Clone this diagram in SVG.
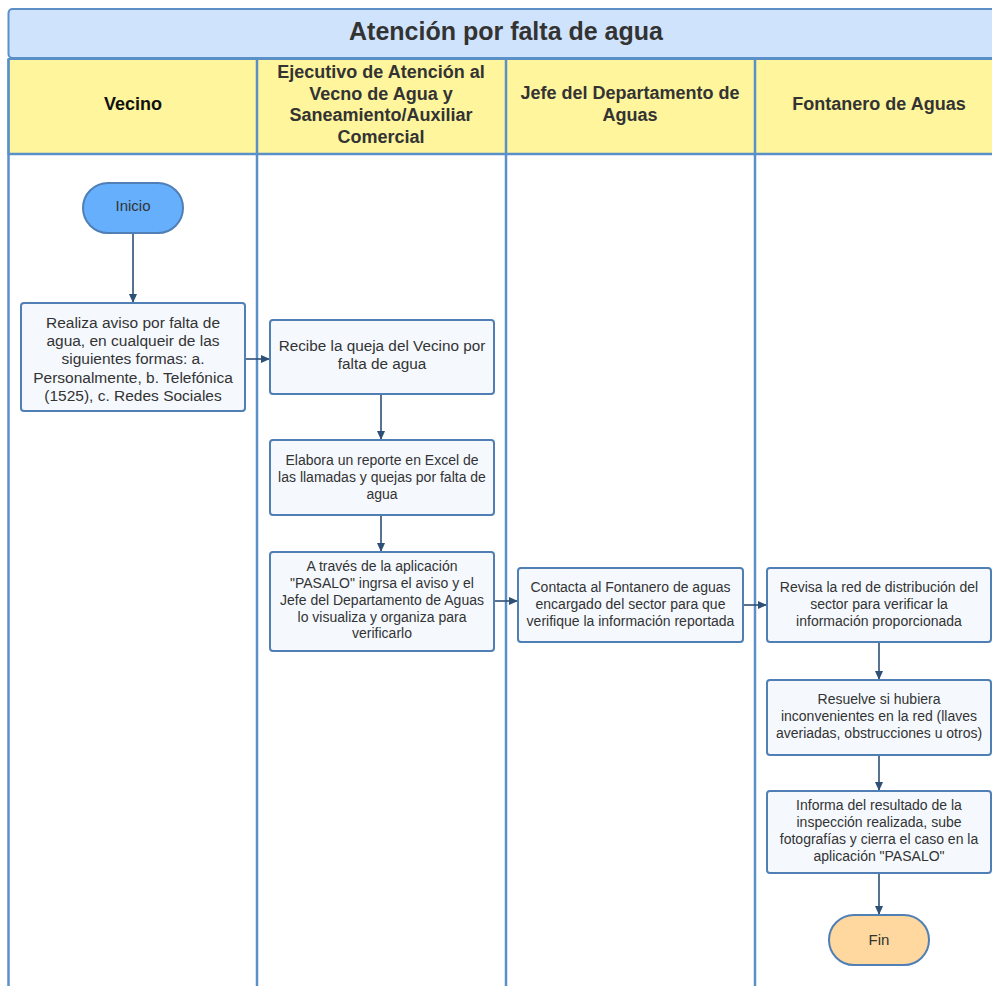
<svg xmlns="http://www.w3.org/2000/svg" width="992" height="986" viewBox="0 0 992 986">
<style>
text{font-family:"Liberation Sans",Arial,sans-serif;fill:#333333;text-anchor:middle;dominant-baseline:central}
.hd{font-weight:bold;font-size:18px}
.box{fill:#f5f9fe;stroke:#4f7fb5;stroke-width:2}
.t{font-size:15px}
.s{font-size:14px}
.ln{stroke:#5b8fc7;stroke-width:2.5;fill:none}
.cn{stroke:#2e5077;stroke-width:1.6;fill:none;marker-end:url(#ah)}
</style>
<defs>
<marker id="ah" markerWidth="10" markerHeight="10" refX="8" refY="5" orient="auto" markerUnits="userSpaceOnUse">
<path d="M0,1 L9,5 L0,9 Z" fill="#2e5077"/>
</marker>
</defs>
<rect width="992" height="986" fill="#ffffff"/>
<g id="title">
<rect x="8.5" y="9" width="1000" height="49" rx="4" fill="#cfe3fc" stroke="#5b8fc7" stroke-width="2"/>
<text x="506" y="31" style="font-size:25px;font-weight:bold">Atención por falta de agua</text>
</g>
<g id="lanes">
<rect x="8.5" y="59" width="1000" height="95" fill="#fef59c" stroke="#5b8fc7" stroke-width="2"/>
<line class="ln" x1="8.5" y1="59" x2="8.5" y2="990"/>
<line class="ln" x1="257" y1="59" x2="257" y2="990"/>
<line class="ln" x1="506" y1="59" x2="506" y2="990"/>
<line class="ln" x1="755" y1="59" x2="755" y2="990"/>
<line class="ln" x1="8.5" y1="154" x2="1000" y2="154"/>
<text class="hd" x="133" y="104" style="fill:#111">Vecino</text>
<text class="hd" x="381" y="72">Ejecutivo de Atención al</text>
<text class="hd" x="381" y="93.5">Vecno de Agua y</text>
<text class="hd" x="381" y="115">Saneamiento/Auxiliar</text>
<text class="hd" x="381" y="136.5">Comercial</text>
<text class="hd" x="630" y="93">Jefe del Departamento de</text>
<text class="hd" x="630" y="114.5">Aguas</text>
<text class="hd" x="879" y="104">Fontanero de Aguas</text>
</g>
<g id="connectors">
<path class="cn" d="M133,233 V302"/>
<path class="cn" d="M245,359 H269"/>
<path class="cn" d="M381,394 V439"/>
<path class="cn" d="M381,515 V551"/>
<path class="cn" d="M494,601 H517"/>
<path class="cn" d="M743,605 H766"/>
<path class="cn" d="M879,642 V679"/>
<path class="cn" d="M879,755 V790"/>
<path class="cn" d="M879,873 V914"/>
</g>
<g id="inicio">
<rect x="83" y="183" width="100" height="50" rx="25" fill="#66affc" stroke="#4f7fb5" stroke-width="2"/>
<text class="t" x="133" y="205">Inicio</text>
</g>
<g id="n1">
<rect class="box" x="21" y="303" width="224" height="108" rx="3"/>
<text x="133" y="322" style="font-size:15.5px">Realiza aviso por falta de</text>
<text x="133" y="340" style="font-size:15.5px">agua, en cualqueir de las</text>
<text x="133" y="358.5" style="font-size:15.5px">siguientes formas: a.</text>
<text x="133" y="377" style="font-size:15.5px">Personalmente, b. Telefónica</text>
<text x="133" y="395" style="font-size:15.5px">(1525), c. Redes Sociales</text>
</g>
<g id="n2">
<rect class="box" x="270" y="320" width="224" height="74" rx="3"/>
<text x="382" y="345" style="font-size:15.3px">Recibe la queja del Vecino por</text>
<text x="382" y="363.5" style="font-size:15.3px">falta de agua</text>
</g>
<g id="n3">
<rect class="box" x="270" y="440" width="224" height="75" rx="3"/>
<text class="s" x="382" y="460">Elabora un reporte en Excel de</text>
<text class="s" x="382" y="477">las llamadas y quejas por falta de</text>
<text class="s" x="382" y="493.5">agua</text>
</g>
<g id="n4">
<rect class="box" x="270" y="552" width="224" height="99" rx="3"/>
<text class="s" x="382" y="566">A través de la aplicación</text>
<text class="s" x="382" y="583">"PASALO" ingrsa el aviso y el</text>
<text class="s" x="382" y="600">Jefe del Departamento de Aguas</text>
<text class="s" x="382" y="616.5">lo visualiza y organiza para</text>
<text class="s" x="382" y="633">verificarlo</text>
</g>
<g id="n5">
<rect class="box" x="518" y="568" width="225" height="74" rx="3"/>
<text class="s" x="630.5" y="587">Contacta al Fontanero de aguas</text>
<text class="s" x="630.5" y="604">encargado del sector para que</text>
<text class="s" x="630.5" y="621">verifique la información reportada</text>
</g>
<g id="n6">
<rect class="box" x="767" y="568" width="224" height="74" rx="3"/>
<text class="s" x="879" y="587">Revisa la red de distribución del</text>
<text class="s" x="879" y="604">sector para verificar la</text>
<text class="s" x="879" y="621">información proporcionada</text>
</g>
<g id="n7">
<rect class="box" x="767" y="680" width="224" height="75" rx="3"/>
<text class="s" x="879" y="699">Resuelve si hubiera</text>
<text class="s" x="879" y="716">inconvenientes en la red (llaves</text>
<text class="s" x="879" y="732.5">averiadas, obstrucciones u otros)</text>
</g>
<g id="n8">
<rect class="box" x="767" y="791" width="224" height="82" rx="3"/>
<text class="s" x="879" y="805">Informa del resultado de la</text>
<text class="s" x="879" y="822">inspección realizada, sube</text>
<text class="s" x="879" y="839">fotografías y cierra el caso en la</text>
<text class="s" x="879" y="856">aplicación "PASALO"</text>
</g>
<g id="fin">
<rect x="829" y="915" width="100" height="50" rx="25" fill="#fed89e" stroke="#4f7fb5" stroke-width="2"/>
<text class="t" x="879" y="939">Fin</text>
</g>
</svg>
